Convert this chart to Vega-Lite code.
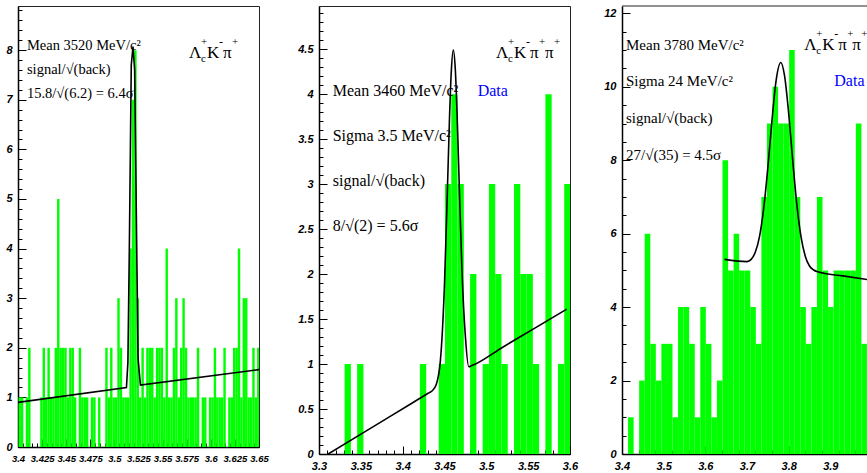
{
  "$schema": "https://vega.github.io/schema/vega-lite/v6.json",
  "background": "white",
  "padding": {"left": 5, "top": 3, "right": 0, "bottom": 0},
  "bounds": "flush",
  "spacing": 60,
  "config": {
    "view": {"stroke": "#222", "strokeWidth": 1},
    "axis": {
      "title": null, "grid": false, "tickCount": 200,
      "domainColor": "#000", "domainWidth": 1.5,
      "tickColor": "#000", "tickWidth": 1,
      "labelFont": "Liberation Sans Narrow, Liberation Sans", "labelFontSize": 11,
      "labelFontWeight": "bold", "labelFontStyle": "italic", "labelColor": "#000",
      "labelOverlap": false, "labelFlush": false, "labelBound": false
    },
    "axisX": {"labelPadding": 14},
    "axisY": {"labelPadding": 14},
    "text": {"font": "Liberation Serif", "color": "#000"}
  },
  "datasets": {
    "h1": [
      {"lo": 3.4, "n": 1}, {"lo": 3.4025, "n": 1}, {"lo": 3.4075, "n": 1}, {"lo": 3.41, "n": 2},
      {"lo": 3.4225, "n": 1}, {"lo": 3.425, "n": 2}, {"lo": 3.4275, "n": 1}, {"lo": 3.43, "n": 2},
      {"lo": 3.4325, "n": 1}, {"lo": 3.435, "n": 1}, {"lo": 3.4375, "n": 2}, {"lo": 3.44, "n": 5},
      {"lo": 3.4425, "n": 2}, {"lo": 3.445, "n": 2}, {"lo": 3.4475, "n": 2}, {"lo": 3.45, "n": 1},
      {"lo": 3.4525, "n": 2}, {"lo": 3.455, "n": 2}, {"lo": 3.4575, "n": 1}, {"lo": 3.4625, "n": 2},
      {"lo": 3.465, "n": 1}, {"lo": 3.4675, "n": 1}, {"lo": 3.47, "n": 1}, {"lo": 3.475, "n": 1},
      {"lo": 3.4775, "n": 1}, {"lo": 3.4825, "n": 1}, {"lo": 3.49, "n": 2}, {"lo": 3.4925, "n": 1},
      {"lo": 3.495, "n": 2}, {"lo": 3.4975, "n": 1}, {"lo": 3.5, "n": 1}, {"lo": 3.5025, "n": 3},
      {"lo": 3.505, "n": 2}, {"lo": 3.5075, "n": 1}, {"lo": 3.51, "n": 1}, {"lo": 3.5125, "n": 1},
      {"lo": 3.515, "n": 4}, {"lo": 3.5175, "n": 7}, {"lo": 3.52, "n": 8}, {"lo": 3.5225, "n": 3},
      {"lo": 3.525, "n": 1}, {"lo": 3.5275, "n": 2}, {"lo": 3.53, "n": 1}, {"lo": 3.5325, "n": 2},
      {"lo": 3.535, "n": 2}, {"lo": 3.5375, "n": 2}, {"lo": 3.54, "n": 1}, {"lo": 3.5425, "n": 2},
      {"lo": 3.545, "n": 2}, {"lo": 3.5475, "n": 2}, {"lo": 3.55, "n": 1}, {"lo": 3.5525, "n": 4},
      {"lo": 3.555, "n": 1}, {"lo": 3.5575, "n": 1}, {"lo": 3.56, "n": 2}, {"lo": 3.5625, "n": 3},
      {"lo": 3.565, "n": 1}, {"lo": 3.5675, "n": 2}, {"lo": 3.57, "n": 3}, {"lo": 3.5725, "n": 2},
      {"lo": 3.575, "n": 1}, {"lo": 3.5775, "n": 1}, {"lo": 3.58, "n": 1}, {"lo": 3.5825, "n": 1},
      {"lo": 3.585, "n": 2}, {"lo": 3.59, "n": 1}, {"lo": 3.5925, "n": 1}, {"lo": 3.5975, "n": 1},
      {"lo": 3.6, "n": 1}, {"lo": 3.6025, "n": 2}, {"lo": 3.605, "n": 1}, {"lo": 3.6075, "n": 1},
      {"lo": 3.61, "n": 1}, {"lo": 3.6125, "n": 2}, {"lo": 3.6175, "n": 1}, {"lo": 3.62, "n": 1},
      {"lo": 3.6225, "n": 2}, {"lo": 3.625, "n": 2}, {"lo": 3.6275, "n": 4}, {"lo": 3.63, "n": 1},
      {"lo": 3.6325, "n": 3}, {"lo": 3.635, "n": 3}, {"lo": 3.6375, "n": 1}, {"lo": 3.64, "n": 1},
      {"lo": 3.6425, "n": 2}, {"lo": 3.645, "n": 1}, {"lo": 3.6475, "n": 2}
    ],
    "h2": [
      {"lo": 3.33, "n": 1}, {"lo": 3.345, "n": 1}, {"lo": 3.42, "n": 1}, {"lo": 3.4425, "n": 1},
      {"lo": 3.45, "n": 3}, {"lo": 3.4575, "n": 4}, {"lo": 3.465, "n": 3}, {"lo": 3.48, "n": 2},
      {"lo": 3.495, "n": 1}, {"lo": 3.5025, "n": 3}, {"lo": 3.51, "n": 2}, {"lo": 3.5175, "n": 1},
      {"lo": 3.5325, "n": 3}, {"lo": 3.54, "n": 2}, {"lo": 3.5475, "n": 2}, {"lo": 3.555, "n": 1},
      {"lo": 3.57, "n": 4}, {"lo": 3.585, "n": 1}, {"lo": 3.5925, "n": 3}
    ],
    "h3": [
      {"lo": 3.413333, "n": 1}, {"lo": 3.44, "n": 2}, {"lo": 3.453333, "n": 6}, {"lo": 3.466667, "n": 3},
      {"lo": 3.48, "n": 2}, {"lo": 3.493333, "n": 3}, {"lo": 3.506667, "n": 3}, {"lo": 3.52, "n": 1},
      {"lo": 3.533333, "n": 4}, {"lo": 3.546667, "n": 4}, {"lo": 3.56, "n": 3}, {"lo": 3.573333, "n": 1},
      {"lo": 3.586667, "n": 4}, {"lo": 3.6, "n": 3}, {"lo": 3.613333, "n": 1}, {"lo": 3.626667, "n": 2},
      {"lo": 3.64, "n": 8}, {"lo": 3.653333, "n": 5}, {"lo": 3.666667, "n": 6}, {"lo": 3.68, "n": 5},
      {"lo": 3.693333, "n": 5}, {"lo": 3.706667, "n": 4}, {"lo": 3.72, "n": 3}, {"lo": 3.733333, "n": 7},
      {"lo": 3.746667, "n": 9}, {"lo": 3.76, "n": 10}, {"lo": 3.773333, "n": 9}, {"lo": 3.786667, "n": 9},
      {"lo": 3.8, "n": 11}, {"lo": 3.813333, "n": 7}, {"lo": 3.826667, "n": 4}, {"lo": 3.84, "n": 3},
      {"lo": 3.853333, "n": 4}, {"lo": 3.866667, "n": 7}, {"lo": 3.88, "n": 5}, {"lo": 3.893333, "n": 4},
      {"lo": 3.906667, "n": 5}, {"lo": 3.92, "n": 5}, {"lo": 3.933333, "n": 5}, {"lo": 3.946667, "n": 5},
      {"lo": 3.96, "n": 9}, {"lo": 3.973333, "n": 3}, {"lo": 3.986667, "n": 4}
    ],
    "f1": [
      {"x": 3.4, "v": 0.9}, {"x": 3.5125, "v": 1.2}, {"x": 3.514, "v": 1.7}, {"x": 3.5155, "v": 4.0},
      {"x": 3.5175, "v": 7.7}, {"x": 3.5193, "v": 8.07}, {"x": 3.521, "v": 7.6}, {"x": 3.5228, "v": 4.6},
      {"x": 3.5245, "v": 1.8}, {"x": 3.527, "v": 1.25}, {"x": 3.65, "v": 1.56}
    ],
    "f2": [
      {"x": 3.311, "v": 0.0}, {"x": 3.36, "v": 0.277}, {"x": 3.41, "v": 0.559}, {"x": 3.43, "v": 0.672},
      {"x": 3.435, "v": 0.7}, {"x": 3.44, "v": 0.77}, {"x": 3.445, "v": 1.03},
      {"x": 3.45, "v": 1.89}, {"x": 3.453, "v": 2.78}, {"x": 3.456, "v": 3.74}, {"x": 3.458, "v": 4.23},
      {"x": 3.4605, "v": 4.49}, {"x": 3.463, "v": 4.26}, {"x": 3.465, "v": 3.79}, {"x": 3.468, "v": 2.87},
      {"x": 3.471, "v": 2.01}, {"x": 3.475, "v": 1.3}, {"x": 3.479, "v": 0.97}, {"x": 3.482, "v": 0.98},
      {"x": 3.52, "v": 1.19}, {"x": 3.56, "v": 1.41}, {"x": 3.596, "v": 1.61}
    ],
    "f3": [
      {"x": 3.646, "v": 5.3}, {"x": 3.7, "v": 5.24}, {"x": 3.71, "v": 5.3}, {"x": 3.72, "v": 5.5},
      {"x": 3.73, "v": 5.92}, {"x": 3.74, "v": 6.68}, {"x": 3.75, "v": 7.79}, {"x": 3.76, "v": 9.09},
      {"x": 3.77, "v": 10.18}, {"x": 3.781, "v": 10.66}, {"x": 3.79, "v": 10.31}, {"x": 3.8, "v": 9.28},
      {"x": 3.81, "v": 7.96}, {"x": 3.82, "v": 6.75}, {"x": 3.83, "v": 5.89}, {"x": 3.84, "v": 5.38},
      {"x": 3.85, "v": 5.12}, {"x": 3.86, "v": 5.01}, {"x": 3.87, "v": 4.96}, {"x": 3.93, "v": 4.85}, {"x": 3.99, "v": 4.75}
    ]
  },
  "hconcat": [
    {
      "width": 241,
      "height": 441,
      "layer": [
        {
          "data": {"name": "h1"},
          "mark": {"type": "bar", "color": "#00ff00", "binSpacing": 0, "clip": true},
          "encoding": {
            "x": {
              "field": "lo", "type": "quantitative",
              "bin": {"binned": true, "step": 0.0025},
              "scale": {"domain": [3.4, 3.65], "nice": false, "zero": false},
              "axis": {
                "format": "~g", "labelOverlap": false, "labelFontSize": 9.5, "tickCount": 200,
                "values": [3.4, 3.405, 3.41, 3.415, 3.42, 3.425, 3.43, 3.435, 3.44, 3.445, 3.45, 3.455, 3.46, 3.465, 3.47, 3.475, 3.48, 3.485, 3.49, 3.495, 3.5, 3.505, 3.51, 3.515, 3.52, 3.525, 3.53, 3.535, 3.54, 3.545, 3.55, 3.555, 3.56, 3.565, 3.57, 3.575, 3.58, 3.585, 3.59, 3.595, 3.6, 3.605, 3.61, 3.615, 3.62, 3.625, 3.63, 3.635, 3.64, 3.645, 3.65],
                "labelExpr": "abs(datum.value*40-round(datum.value*40))<0.001 ? datum.label : ''",
                "tickSize": {"condition": {"test": "abs(datum.value*40-round(datum.value*40))<0.001", "value": -8}, "value": -4}
              }
            },
            "y": {
              "field": "n", "type": "quantitative",
              "scale": {"domain": [0, 8.89], "nice": false},
              "axis": {
                "format": "~g", "labelOverlap": false, "tickCount": 200,
                "values": [0, 0.2, 0.4, 0.6, 0.8, 1, 1.2, 1.4, 1.6, 1.8, 2, 2.2, 2.4, 2.6, 2.8, 3, 3.2, 3.4, 3.6, 3.8, 4, 4.2, 4.4, 4.6, 4.8, 5, 5.2, 5.4, 5.6, 5.8, 6, 6.2, 6.4, 6.6, 6.8, 7, 7.2, 7.4, 7.6, 7.8, 8, 8.2, 8.4, 8.6, 8.8],
                "labelExpr": "abs(datum.value-round(datum.value))<0.001 ? datum.label : ''",
                "tickSize": {"condition": {"test": "abs(datum.value-round(datum.value))<0.001", "value": -8}, "value": -4}
              }
            }
          }
        },
        {
          "data": {"name": "f1"},
          "mark": {"type": "line", "color": "#000", "strokeWidth": 1.6, "clip": true},
          "encoding": {
            "x": {"field": "x", "type": "quantitative"},
            "y": {"field": "v", "type": "quantitative"}
          }
        },
        {
          "data": {"values": [{}]},
          "mark": {"type": "text", "text": ["Mean 3520 MeV/c²", "signal/√(back)", "15.8/√(6.2) = 6.4σ"], "fontSize": 14.5, "lineHeight": 24, "align": "left", "baseline": "alphabetic"},
          "encoding": {"x": {"datum": 3.4093, "type": "quantitative"}, "y": {"datum": 8.0, "type": "quantitative"}}
        },
        {
          "data": {"values": [{}]},
          "mark": {"type": "text", "text": "Λ", "fontSize": 17, "align": "left", "baseline": "alphabetic"},
          "encoding": {"x": {"datum": 3.5774, "type": "quantitative"}, "y": {"datum": 7.836, "type": "quantitative"}}
        },
        {
          "data": {"values": [{}]},
          "mark": {"type": "text", "text": "+", "fontSize": 11, "dx": 12, "dy": -13, "align": "left", "baseline": "alphabetic"},
          "encoding": {"x": {"datum": 3.5774, "type": "quantitative"}, "y": {"datum": 7.836, "type": "quantitative"}}
        },
        {
          "data": {"values": [{}]},
          "mark": {"type": "text", "text": "c", "fontSize": 11, "dx": 12, "dy": 4, "align": "left", "baseline": "alphabetic"},
          "encoding": {"x": {"datum": 3.5774, "type": "quantitative"}, "y": {"datum": 7.836, "type": "quantitative"}}
        },
        {
          "data": {"values": [{}]},
          "mark": {"type": "text", "text": "K", "fontSize": 17, "dx": 18, "align": "left", "baseline": "alphabetic"},
          "encoding": {"x": {"datum": 3.5774, "type": "quantitative"}, "y": {"datum": 7.836, "type": "quantitative"}}
        },
        {
          "data": {"values": [{}]},
          "mark": {"type": "text", "text": "-", "fontSize": 12, "dx": 30, "dy": -12, "align": "left", "baseline": "alphabetic"},
          "encoding": {"x": {"datum": 3.5774, "type": "quantitative"}, "y": {"datum": 7.836, "type": "quantitative"}}
        },
        {
          "data": {"values": [{}]},
          "mark": {"type": "text", "text": "π", "fontSize": 17, "dx": 34, "align": "left", "baseline": "alphabetic"},
          "encoding": {"x": {"datum": 3.5774, "type": "quantitative"}, "y": {"datum": 7.836, "type": "quantitative"}}
        },
        {
          "data": {"values": [{}]},
          "mark": {"type": "text", "text": "+", "fontSize": 11, "dx": 43, "dy": -13, "align": "left", "baseline": "alphabetic"},
          "encoding": {"x": {"datum": 3.5774, "type": "quantitative"}, "y": {"datum": 7.836, "type": "quantitative"}}
        }
      ]
    },
    {
      "bounds": "flush",
      "spacing": 52,
      "hconcat": [
        {
          "width": 251,
          "height": 448,
          "layer": [
            {
              "data": {"name": "h2"},
              "mark": {"type": "bar", "color": "#00ff00", "binSpacing": 0, "clip": true},
              "encoding": {
                "x": {
                  "field": "lo", "type": "quantitative",
                  "bin": {"binned": true, "step": 0.0075},
                  "scale": {"domain": [3.3, 3.6], "nice": false, "zero": false},
                  "axis": {
                    "format": "~g", "labelOverlap": false, "tickCount": 200,
                    "values": [3.3, 3.31, 3.32, 3.33, 3.34, 3.35, 3.36, 3.37, 3.38, 3.39, 3.4, 3.41, 3.42, 3.43, 3.44, 3.45, 3.46, 3.47, 3.48, 3.49, 3.5, 3.51, 3.52, 3.53, 3.54, 3.55, 3.56, 3.57, 3.58, 3.59, 3.6],
                    "labelExpr": "abs(datum.value*20-round(datum.value*20))<0.001 ? datum.label : ''",
                    "tickSize": {"condition": {"test": "abs(datum.value*20-round(datum.value*20))<0.001", "value": -8}, "value": -4}
                  }
                },
                "y": {
                  "field": "n", "type": "quantitative",
                  "scale": {"domain": [0, 4.98], "nice": false},
                  "axis": {
                    "format": "~g", "labelOverlap": false, "tickCount": 200,
                    "values": [0, 0.1, 0.2, 0.3, 0.4, 0.5, 0.6, 0.7, 0.8, 0.9, 1, 1.1, 1.2, 1.3, 1.4, 1.5, 1.6, 1.7, 1.8, 1.9, 2, 2.1, 2.2, 2.3, 2.4, 2.5, 2.6, 2.7, 2.8, 2.9, 3, 3.1, 3.2, 3.3, 3.4, 3.5, 3.6, 3.7, 3.8, 3.9, 4, 4.1, 4.2, 4.3, 4.4, 4.5, 4.6, 4.7, 4.8, 4.9],
                    "labelExpr": "abs(datum.value*2-round(datum.value*2))<0.001 ? datum.label : ''",
                    "tickSize": {"condition": {"test": "abs(datum.value*2-round(datum.value*2))<0.001", "value": -8}, "value": -4}
                  }
                }
              }
            },
            {
              "data": {"name": "f2"},
              "mark": {"type": "line", "color": "#000", "strokeWidth": 1.6, "interpolate": "monotone", "clip": true},
              "encoding": {
                "x": {"field": "x", "type": "quantitative"},
                "y": {"field": "v", "type": "quantitative"}
              }
            },
            {
              "data": {"values": [{}]},
              "mark": {"type": "text", "text": ["Mean 3460 MeV/c²", "Sigma 3.5 MeV/c²", "signal/√(back)", "8/√(2) = 5.6σ"], "fontSize": 16, "lineHeight": 45, "align": "left", "baseline": "alphabetic"},
              "encoding": {"x": {"datum": 3.3164, "type": "quantitative"}, "y": {"datum": 3.976, "type": "quantitative"}}
            },
            {
              "data": {"values": [{}]},
              "mark": {"type": "text", "text": "Data", "fontSize": 16, "color": "#0000ff", "align": "left", "baseline": "alphabetic"},
              "encoding": {"x": {"datum": 3.4897, "type": "quantitative"}, "y": {"datum": 3.98, "type": "quantitative"}}
            },
            {
              "data": {"values": [{}]},
              "mark": {"type": "text", "text": "Λ", "fontSize": 17, "align": "left", "baseline": "alphabetic"},
              "encoding": {"x": {"datum": 3.5115, "type": "quantitative"}, "y": {"datum": 4.399, "type": "quantitative"}}
            },
            {
              "data": {"values": [{}]},
              "mark": {"type": "text", "text": "+", "fontSize": 11, "dx": 12, "dy": -13, "align": "left", "baseline": "alphabetic"},
              "encoding": {"x": {"datum": 3.5115, "type": "quantitative"}, "y": {"datum": 4.399, "type": "quantitative"}}
            },
            {
              "data": {"values": [{}]},
              "mark": {"type": "text", "text": "c", "fontSize": 11, "dx": 12, "dy": 4, "align": "left", "baseline": "alphabetic"},
              "encoding": {"x": {"datum": 3.5115, "type": "quantitative"}, "y": {"datum": 4.399, "type": "quantitative"}}
            },
            {
              "data": {"values": [{}]},
              "mark": {"type": "text", "text": "K", "fontSize": 17, "dx": 18, "align": "left", "baseline": "alphabetic"},
              "encoding": {"x": {"datum": 3.5115, "type": "quantitative"}, "y": {"datum": 4.399, "type": "quantitative"}}
            },
            {
              "data": {"values": [{}]},
              "mark": {"type": "text", "text": "-", "fontSize": 12, "dx": 30, "dy": -12, "align": "left", "baseline": "alphabetic"},
              "encoding": {"x": {"datum": 3.5115, "type": "quantitative"}, "y": {"datum": 4.399, "type": "quantitative"}}
            },
            {
              "data": {"values": [{}]},
              "mark": {"type": "text", "text": "π", "fontSize": 17, "dx": 34, "align": "left", "baseline": "alphabetic"},
              "encoding": {"x": {"datum": 3.5115, "type": "quantitative"}, "y": {"datum": 4.399, "type": "quantitative"}}
            },
            {
              "data": {"values": [{}]},
              "mark": {"type": "text", "text": "+", "fontSize": 11, "dx": 43, "dy": -13, "align": "left", "baseline": "alphabetic"},
              "encoding": {"x": {"datum": 3.5115, "type": "quantitative"}, "y": {"datum": 4.399, "type": "quantitative"}}
            },
            {
              "data": {"values": [{}]},
              "mark": {"type": "text", "text": "π", "fontSize": 17, "dx": 49, "align": "left", "baseline": "alphabetic"},
              "encoding": {"x": {"datum": 3.5115, "type": "quantitative"}, "y": {"datum": 4.399, "type": "quantitative"}}
            },
            {
              "data": {"values": [{}]},
              "mark": {"type": "text", "text": "+", "fontSize": 11, "dx": 58, "dy": -13, "align": "left", "baseline": "alphabetic"},
              "encoding": {"x": {"datum": 3.5115, "type": "quantitative"}, "y": {"datum": 4.399, "type": "quantitative"}}
            }
          ]
        },
        {
          "width": 246,
          "height": 448,
          "view": {"stroke": null},
          "layer": [
            {
              "data": {"name": "h3"},
              "mark": {"type": "bar", "color": "#00ff00", "binSpacing": 0, "clip": true},
              "encoding": {
                "x": {
                  "field": "lo", "type": "quantitative",
                  "bin": {"binned": true, "step": 0.0133333},
                  "scale": {"domain": [3.4, 3.9904], "nice": false, "zero": false},
                  "axis": {
                    "format": "~g", "labelOverlap": false, "tickCount": 200,
                    "values": [3.4, 3.42, 3.44, 3.46, 3.48, 3.5, 3.52, 3.54, 3.56, 3.58, 3.6, 3.62, 3.64, 3.66, 3.68, 3.7, 3.72, 3.74, 3.76, 3.78, 3.8, 3.82, 3.84, 3.86, 3.88, 3.9, 3.92, 3.94, 3.96, 3.98],
                    "labelExpr": "abs(datum.value*10-round(datum.value*10))<0.001 ? datum.label : ''",
                    "tickSize": {"condition": {"test": "abs(datum.value*10-round(datum.value*10))<0.001", "value": -8}, "value": -4}
                  }
                },
                "y": {
                  "field": "n", "type": "quantitative",
                  "scale": {"domain": [0, 12.2], "nice": false},
                  "axis": {
                    "format": "~g", "labelOverlap": false, "tickCount": 200,
                    "values": [0, 0.5, 1, 1.5, 2, 2.5, 3, 3.5, 4, 4.5, 5, 5.5, 6, 6.5, 7, 7.5, 8, 8.5, 9, 9.5, 10, 10.5, 11, 11.5, 12],
                    "labelExpr": "abs(datum.value/2-round(datum.value/2))<0.001 ? datum.label : ''",
                    "tickSize": {"condition": {"test": "abs(datum.value/2-round(datum.value/2))<0.001", "value": -8}, "value": -4}
                  }
                }
              }
            },
            {
              "data": {"name": "f3"},
              "mark": {"type": "line", "color": "#000", "strokeWidth": 1.6, "interpolate": "monotone", "clip": true},
              "encoding": {
                "x": {"field": "x", "type": "quantitative"},
                "y": {"field": "v", "type": "quantitative"}
              }
            },
            {
              "data": {"values": [{}]},
              "mark": {"type": "rule", "color": "#222", "strokeWidth": 1},
              "encoding": {"y": {"datum": 12.2, "type": "quantitative"}}
            },
            {
              "data": {"values": [{}]},
              "mark": {"type": "text", "text": ["Mean 3780 MeV/c²", "Sigma 24 MeV/c²", "signal/√(back)", "27/√(35) = 4.5σ"], "fontSize": 15, "lineHeight": 36.7, "align": "left", "baseline": "alphabetic"},
              "encoding": {"x": {"datum": 3.4096, "type": "quantitative"}, "y": {"datum": 11.01, "type": "quantitative"}}
            },
            {
              "data": {"values": [{}]},
              "mark": {"type": "text", "text": "Data", "fontSize": 16, "color": "#0000ff", "align": "left", "baseline": "alphabetic"},
              "encoding": {"x": {"datum": 3.9095, "type": "quantitative"}, "y": {"datum": 10.011, "type": "quantitative"}}
            },
            {
              "data": {"values": [{}]},
              "mark": {"type": "text", "text": "Λ", "fontSize": 17, "align": "left", "baseline": "alphabetic"},
              "encoding": {"x": {"datum": 3.8375, "type": "quantitative"}, "y": {"datum": 11.008, "type": "quantitative"}}
            },
            {
              "data": {"values": [{}]},
              "mark": {"type": "text", "text": "+", "fontSize": 11, "dx": 12, "dy": -13, "align": "left", "baseline": "alphabetic"},
              "encoding": {"x": {"datum": 3.8375, "type": "quantitative"}, "y": {"datum": 11.008, "type": "quantitative"}}
            },
            {
              "data": {"values": [{}]},
              "mark": {"type": "text", "text": "c", "fontSize": 11, "dx": 12, "dy": 4, "align": "left", "baseline": "alphabetic"},
              "encoding": {"x": {"datum": 3.8375, "type": "quantitative"}, "y": {"datum": 11.008, "type": "quantitative"}}
            },
            {
              "data": {"values": [{}]},
              "mark": {"type": "text", "text": "K", "fontSize": 17, "dx": 18, "align": "left", "baseline": "alphabetic"},
              "encoding": {"x": {"datum": 3.8375, "type": "quantitative"}, "y": {"datum": 11.008, "type": "quantitative"}}
            },
            {
              "data": {"values": [{}]},
              "mark": {"type": "text", "text": "-", "fontSize": 12, "dx": 30, "dy": -12, "align": "left", "baseline": "alphabetic"},
              "encoding": {"x": {"datum": 3.8375, "type": "quantitative"}, "y": {"datum": 11.008, "type": "quantitative"}}
            },
            {
              "data": {"values": [{}]},
              "mark": {"type": "text", "text": "π", "fontSize": 17, "dx": 34, "align": "left", "baseline": "alphabetic"},
              "encoding": {"x": {"datum": 3.8375, "type": "quantitative"}, "y": {"datum": 11.008, "type": "quantitative"}}
            },
            {
              "data": {"values": [{}]},
              "mark": {"type": "text", "text": "+", "fontSize": 11, "dx": 43, "dy": -13, "align": "left", "baseline": "alphabetic"},
              "encoding": {"x": {"datum": 3.8375, "type": "quantitative"}, "y": {"datum": 11.008, "type": "quantitative"}}
            },
            {
              "data": {"values": [{}]},
              "mark": {"type": "text", "text": "π", "fontSize": 17, "dx": 48, "align": "left", "baseline": "alphabetic"},
              "encoding": {"x": {"datum": 3.8375, "type": "quantitative"}, "y": {"datum": 11.008, "type": "quantitative"}}
            },
            {
              "data": {"values": [{}]},
              "mark": {"type": "text", "text": "+", "fontSize": 11, "dx": 57, "dy": -13, "align": "left", "baseline": "alphabetic"},
              "encoding": {"x": {"datum": 3.8375, "type": "quantitative"}, "y": {"datum": 11.008, "type": "quantitative"}}
            }
          ]
        }
      ]
    }
  ]
}
